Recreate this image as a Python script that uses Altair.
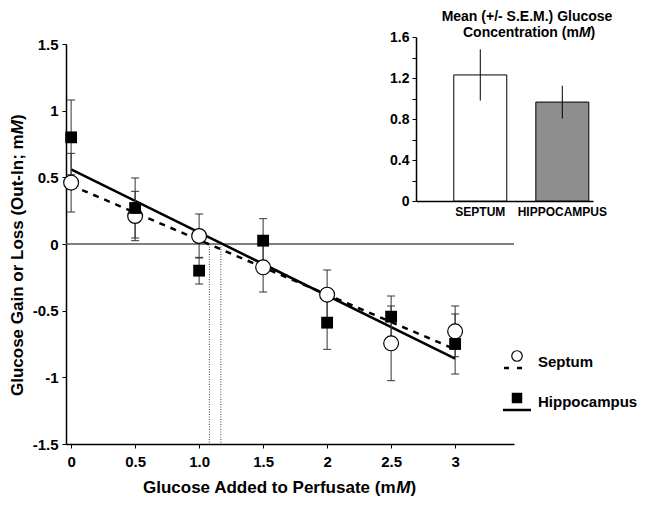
import altair as alt
import pandas as pd

# ---------------- data ----------------
x_added = [0, 0.5, 1.0, 1.5, 2.0, 2.5, 3.0]
septum_mean = [0.46, 0.21, 0.06, -0.175, -0.38, -0.745, -0.655]
septum_sem = [0.22, 0.185, 0.165, 0.185, 0.185, 0.28, 0.19]
hippo_mean = [0.80, 0.27, -0.20, 0.025, -0.59, -0.545, -0.75]
hippo_sem = [0.28, 0.225, 0.10, 0.165, 0.20, 0.155, 0.225]

fit_x = [0, 3]
septum_fit = [0.44, -0.79]
hippo_fit = [0.56, -0.86]

crossings = [1.08, 1.17]

x_ticks = [0, 0.5, 1, 1.5, 2, 2.5, 3]
y_ticks = [-1.5, -1, -0.5, 0, 0.5, 1, 1.5]

inset_regions = ["SEPTUM", "HIPPOCAMPUS"]
inset_mean = [1.23, 0.965]
inset_sem = [0.25, 0.16]
inset_ticks = [0, 0.2, 0.4, 0.6, 0.8, 1.0, 1.2, 1.4, 1.6]

FONT = "Liberation Sans"

pts = pd.DataFrame({
    "x": x_added,
    "s": septum_mean,
    "s_lo": [m - e for m, e in zip(septum_mean, septum_sem)],
    "s_hi": [m + e for m, e in zip(septum_mean, septum_sem)],
    "h": hippo_mean,
    "h_lo": [m - e for m, e in zip(hippo_mean, hippo_sem)],
    "h_hi": [m + e for m, e in zip(hippo_mean, hippo_sem)],
})
fit = pd.DataFrame({"x": fit_x, "s": septum_fit, "h": hippo_fit})
cross = pd.DataFrame({"c": crossings, "top": [0, 0], "bot": [-1.5, -1.5]})
zero = pd.DataFrame({"z": [0]})

x_scale = alt.Scale(domain=[-0.04, 3.46], nice=False, zero=False)
y_scale = alt.Scale(domain=[-1.5, 1.5], nice=False, zero=False)

x_axis = alt.Axis(values=x_ticks, format="~g",
                  labelExpr="datum.value == 1 ? '1.0' : datum.label",
                  labelFontSize=15, tickSize=4, labelPadding=6, domainWidth=1.5,
                  domainColor="black", tickColor="black", grid=False, title=None)
y_axis = alt.Axis(values=y_ticks, format="~g",
                  labelExpr="replace(datum.label, '\u2212', '-')",
                  labelFontSize=15, tickSize=4, labelPadding=4, domainWidth=1.5,
                  domainColor="black", tickColor="black", grid=False, title=None)


def X(f):
    return alt.X(f, type="quantitative", scale=x_scale, axis=x_axis, title=None)


def Y(f):
    return alt.Y(f, type="quantitative", scale=y_scale, axis=y_axis, title=None)


def txt(s, x, y, size, angle=0, align="left", style="normal", weight="bold"):
    return alt.Chart(pd.DataFrame({"t": [s]})).mark_text(
        font=FONT, fontSize=size, fontWeight=weight, fontStyle=style, angle=angle,
        align=align, baseline="middle", color="black"
    ).encode(x=alt.value(x), y=alt.value(y), text="t:N")


zero_line = alt.Chart(zero).mark_rule(color="#555555", strokeWidth=1.5).encode(y=Y("z"))
dotted = alt.Chart(cross).mark_rule(color="#444444", strokeWidth=1, strokeDash=[1, 1.5]).encode(
    x=X("c"), y=Y("top"), y2="bot")
fit_s = alt.Chart(fit).mark_line(color="black", strokeWidth=2.5, strokeDash=[6, 6]).encode(
    x=X("x"), y=Y("s"))
fit_h = alt.Chart(fit).mark_line(color="black", strokeWidth=2.5).encode(x=X("x"), y=Y("h"))

err_s = alt.Chart(pts).mark_rule(color="#333333", strokeWidth=1).encode(x=X("x"), y=Y("s_lo"), y2="s_hi")
err_h = alt.Chart(pts).mark_rule(color="#333333", strokeWidth=1).encode(x=X("x"), y=Y("h_lo"), y2="h_hi")
caps = []
for f in ["s_lo", "s_hi", "h_lo", "h_hi"]:
    caps.append(alt.Chart(pts).mark_tick(orient="horizontal", size=8, thickness=1, color="#333333",
                                         opacity=1).encode(x=X("x"), y=Y(f)))

circles = alt.Chart(pts).mark_point(shape="circle", fill="white", stroke="black", strokeWidth=1.2,
                                    size=220, opacity=1, fillOpacity=1).encode(x=X("x"), y=Y("s"))
squares = alt.Chart(pts).mark_point(shape="square", filled=True, color="black", size=140,
                                    opacity=1).encode(x=X("x"), y=Y("h"))

one = pd.DataFrame({"a": [0]})
leg_circle = alt.Chart(one).mark_point(shape="circle", fill="white", stroke="black", strokeWidth=1.2,
                                       size=110, opacity=1, fillOpacity=1).encode(
    x=alt.value(451), y=alt.value(312))
leg_dash = alt.Chart(one).mark_rule(color="black", strokeWidth=2.5, strokeDash=[5, 8]).encode(
    x=alt.value(438), x2=alt.value(458), y=alt.value(324))
leg_square = alt.Chart(one).mark_point(shape="square", filled=True, color="black", size=110,
                                       opacity=1).encode(x=alt.value(451), y=alt.value(354))
leg_line = alt.Chart(one).mark_rule(color="black", strokeWidth=2.5).encode(
    x=alt.value(437), x2=alt.value(465), y=alt.value(366))

main = alt.layer(
    zero_line, dotted, fit_s, fit_h, err_s, err_h, *caps, circles, squares,
    leg_circle, leg_dash, leg_square, leg_line,
    txt("Septum", 472, 318, 15),
    txt("Hippocampus", 472, 358, 15),
    # x title
    txt("Glucose Added to Perfusate (m", 77, 444, 17),
    txt("M", 330.2, 444, 17, style="italic"),
    txt(")", 344.4, 444, 17),
    # y title (rotated)
    txt("Glucose Gain or Loss (Out-In; m", -48, 352, 17, angle=270),
    txt("M", -48, 90.3, 17, angle=270, style="italic"),
    txt(")", -48, 76.1, 17, angle=270),
)

# ---------------- inset ----------------
inset_df = pd.DataFrame({
    "region": inset_regions,
    "mean": inset_mean,
    "lo": [m - e for m, e in zip(inset_mean, inset_sem)],
    "hi": [m + e for m, e in zip(inset_mean, inset_sem)],
})

xi_scale = alt.Scale(type="band", domain=inset_regions, range=[350, 527],
                     paddingInner=0.354, paddingOuter=0.256, align=0.9)
yi_scale = alt.Scale(domain=[0, 1.6], range=[157, -7], nice=False, zero=True)
xi_axis = alt.Axis(orient="bottom", offset=-243, labelFontSize=12, tickSize=0, labelPadding=5,
                   domainColor="black", domainWidth=1.5, labelAngle=0, grid=False, title=None)
yi_axis = alt.Axis(orient="left", offset=-350, values=inset_ticks, format="~g",
                   labelExpr="(round(datum.value * 10) % 4 == 0) ? datum.label : ''",
                   labelFontSize=14, tickSize=4, labelPadding=3, domainColor="black",
                   domainWidth=1.5, tickColor="black", grid=False, title=None)


def XI():
    return alt.X("region:N", sort=inset_regions, scale=xi_scale, axis=xi_axis, title=None)


def YI(f):
    return alt.Y(f, type="quantitative", scale=yi_scale, axis=yi_axis, title=None)


bars = alt.Chart(inset_df).mark_bar(stroke="black", strokeWidth=1).encode(
    x=XI(), y=YI("mean"),
    fill=alt.Fill("region:N", scale=alt.Scale(domain=inset_regions, range=["white", "#8e8e8e"]),
                  legend=None))
inset_err = alt.Chart(inset_df).mark_rule(color="black", strokeWidth=1).encode(
    x=XI(), y=YI("lo"), y2="hi")

inset = alt.layer(
    bars, inset_err,
    txt("Mean (+/- S.E.M.) Glucose", 461, -27, 14, align="center"),
    txt("Concentration (m", 397, -11, 14),
    txt("M", 512.9, -11, 14, style="italic"),
    txt(")", 524.6, -11, 14),
)

chart = alt.layer(main, inset).resolve_scale(
    x="independent", y="independent", fill="independent"
).properties(
    width=448, height=400,
    padding={"left": 58, "top": 36, "right": 126, "bottom": 56},
    autosize=alt.AutoSizeParams(type="none"),
).configure_view(stroke=None).configure_axis(
    labelFont=FONT, labelFontWeight="bold", labelColor="black"
)

chart.save("out.html", embed_options={"renderer": "svg", "actions": False})
